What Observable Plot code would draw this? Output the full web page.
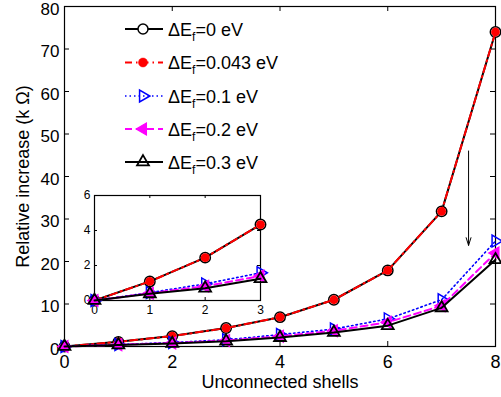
<!DOCTYPE html>
<html>
<head>
<meta charset="utf-8">
<script src="https://cdn.jsdelivr.net/npm/d3@7"></script>
<script src="https://cdn.jsdelivr.net/npm/@observablehq/plot@0.6"></script>
<style>
  html, body { margin: 0; padding: 0; background: white; }
  #wrap { position: relative; width: 501px; height: 397px; font-family: "Liberation Sans", Arial, sans-serif; }
  #wrap > * { position: absolute; }
</style>
</head>
<body>
<div id="wrap"></div>
<script>
// ---- data ----
const shells = [0, 1, 2, 3, 4, 5, 6, 7, 8];
const ef0    = [0, 1.09, 2.45, 4.34, 6.9, 11.0, 17.9, 31.8, 74.0];
const ef0043 = [0, 1.09, 2.45, 4.34, 6.9, 11.0, 17.9, 31.8, 74.0];
const ef01   = [0, 0.45, 0.95, 1.58, 2.8, 4.1, 6.5, 11.0, 24.8];
const ef02   = [0, 0.41, 0.82, 1.40, 2.4, 3.7, 5.7, 9.6, 22.0];
const ef03   = [0, 0.38, 0.70, 1.24, 2.1, 3.3, 4.9, 9.1, 20.4];
const seriesLabels = ["0", "0.043", "0.1", "0.2", "0.3"];
const xTicks = [0, 2, 4, 6, 8];
const yTicks = [0, 10, 20, 30, 40, 50, 60, 70, 80];
const insetXTicks = [0, 1, 2, 3];
const insetYTicks = [0, 2, 4, 6];
const arrowData = [{x1: 7.5, y1: 46, x2: 7.5, y2: 23.8}];

const values = [ef0, ef0043, ef01, ef02, ef03];
const styles = [
  {stroke: "black", width: 2, dash: null, symbol: "circle", r: 5, mstroke: "black", mfill: "white", sw: 1.5, rotate: 0},
  {stroke: "#ff0000", width: 2, dash: "7,4,1.5,4", symbol: "circle", r: 4.5, mstroke: "#ff0000", mfill: "#ff0000", sw: 0.5, rotate: 0},
  {stroke: "#0000ff", width: 1.6, dash: "1.5,3", symbol: "triangle", r: 4.4, mstroke: "#0000ff", mfill: "none", sw: 1.5, rotate: 90},
  {stroke: "#ff00ff", width: 2, dash: "7,4", symbol: "triangle", r: 4.4, mstroke: "#ff00ff", mfill: "#ff00ff", sw: 1.2, rotate: -90},
  {stroke: "black", width: 2, dash: null, symbol: "triangle", r: 4.4, mstroke: "black", mfill: "none", sw: 1.8, rotate: 0}
];
const series = values.map((v, i) => shells.map((s, j) => ({x: s, y: v[j], k: i})));

function seriesMarks(filterFn) {
  const marks = [];
  series.forEach((data, i) => {
    const st = styles[i];
    const d = data.filter(filterFn);
    marks.push(Plot.line(d, {x: "x", y: "y", stroke: st.stroke, strokeWidth: st.width, strokeDasharray: st.dash}));
    if (i === 0) {
      marks.push(Plot.dot(d, {x: "x", y: "y", symbol: "circle", r: 5.2, stroke: "black", fill: "white", strokeWidth: 1.5}));
    } else if (i === 1) {
      marks.push(Plot.dot(d, {x: "x", y: "y", symbol: "circle", r: 4.4, fill: "#ff0000", stroke: "none"}));
    } else {
      marks.push(Plot.dot(d, {x: "x", y: "y", symbol: st.symbol, r: st.r, stroke: st.mstroke, fill: st.mfill, strokeWidth: st.sw, rotate: st.rotate}));
    }
  });
  return marks;
}

const W = 501, H = 397;
const mL = 64, mR = 6, mT = 6, mB = 51;
const fw = W - mL - mR, fh = H - mT - mB;
const tick = 5;

const main = Plot.plot({
  width: W, height: H,
  marginLeft: mL, marginRight: mR, marginTop: mT, marginBottom: mB,
  style: {fontFamily: '"Liberation Sans", Arial, sans-serif', fontSize: "18px", color: "black", background: "white", overflow: "visible"},
  x: {domain: [0, 8]},
  y: {domain: [0, 80]},
  marks: [
    Plot.gridX(xTicks, {stroke: "black", strokeOpacity: 1, strokeWidth: 1, insetTop: fh - tick}),
    Plot.gridX(xTicks, {stroke: "black", strokeOpacity: 1, strokeWidth: 1, insetBottom: fh - tick}),
    Plot.gridY(yTicks, {stroke: "black", strokeOpacity: 1, strokeWidth: 1, insetLeft: fw - tick}),
    Plot.gridY(yTicks, {stroke: "black", strokeOpacity: 1, strokeWidth: 1, insetRight: fw - tick}),
    Plot.axisX(xTicks, {tickSize: 0, tickPadding: 9, label: null, fontSize: 18}),
    Plot.axisY(yTicks, {tickSize: 0, tickPadding: 5, dy: 3, label: null, fontSize: 17}),
    Plot.frame({stroke: "black", strokeWidth: 1.2}),
    Plot.text(["Unconnected shells"], {frameAnchor: "bottom", dy: 36, fontSize: 18, lineAnchor: "middle"}),
    Plot.text(["Relative increase (k \u03A9)"], {frameAnchor: "left", textAnchor: "middle", lineAnchor: "middle", rotate: -90, dx: -41, fontSize: 18}),
    ...seriesMarks(() => true),
    Plot.arrow(arrowData, {x1: "x1", y1: "y1", x2: "x2", y2: "y2", stroke: "black", strokeWidth: 1, headLength: 12, headAngle: 35})
  ]
});
main.style.left = "0px"; main.style.top = "0px";
document.getElementById("wrap").appendChild(main);

// ---- inset ----
const iL = 20, iR = 6, iT = 5, iB = 20;
const iFrameL = 94, iFrameR = 260, iFrameT = 195, iFrameB = 300;
const iW = iFrameR - iFrameL + iL + iR, iH = iFrameB - iFrameT + iT + iB;
const ifw = iFrameR - iFrameL, ifh = iFrameB - iFrameT;
const itick = 3;
const inset = Plot.plot({
  width: iW, height: iH,
  marginLeft: iL, marginRight: iR, marginTop: iT, marginBottom: iB,
  style: {fontFamily: '"Liberation Sans", Arial, sans-serif', fontSize: "12px", color: "black", background: "transparent", overflow: "visible"},
  x: {domain: [0, 3]},
  y: {domain: [0, 6]},
  marks: [
    Plot.frame({fill: "white", stroke: "none"}),
    Plot.gridX(insetXTicks, {stroke: "black", strokeOpacity: 1, insetTop: ifh - itick}),
    Plot.gridX(insetXTicks, {stroke: "black", strokeOpacity: 1, insetBottom: ifh - itick}),
    Plot.gridY(insetYTicks, {stroke: "black", strokeOpacity: 1, insetLeft: ifw - itick}),
    Plot.gridY(insetYTicks, {stroke: "black", strokeOpacity: 1, insetRight: ifw - itick}),
    Plot.axisX(insetXTicks, {tickSize: 0, tickPadding: 5, label: null, fontSize: 12}),
    Plot.axisY(insetYTicks, {tickSize: 0, tickPadding: 4, label: null, fontSize: 12}),
    Plot.frame({stroke: "black", strokeWidth: 1.2}),
    ...seriesMarks(d => d.x <= 3)
  ]
});
inset.style.left = (iFrameL - iL) + "px"; inset.style.top = (iFrameT - iT) + "px";
document.getElementById("wrap").appendChild(inset);

// ---- legend ----
const legendRowsY = [29, 62.5, 96, 129, 162];
const leg = d3.select("#wrap").append("svg")
  .attr("width", 250).attr("height", 180)
  .style("left", "118px").style("top", "10px")
  .style("overflow", "visible");
const ox = 118, oy = 10;
seriesLabels.forEach((lab, i) => {
  const st = styles[i];
  const cy = legendRowsY[i] - oy;
  const x0 = 125 - ox, x1 = 163 - ox, xm = 143 - ox;
  leg.append("line").attr("x1", x0).attr("x2", x1).attr("y1", cy).attr("y2", cy)
    .attr("stroke", st.stroke).attr("stroke-width", st.width).attr("stroke-dasharray", st.dash);
  const sym = st.symbol === "circle" ? d3.symbolCircle : d3.symbolTriangle;
  leg.append("path").attr("d", d3.symbol(sym, st.r * st.r * Math.PI)())
    .attr("transform", `translate(${xm},${cy}) rotate(${st.rotate})`)
    .attr("stroke", st.mstroke).attr("fill", st.mfill).attr("stroke-width", st.sw);
  const t = leg.append("text").attr("x", 168 - ox).attr("y", cy + 6.5)
    .attr("font-size", 18).attr("font-family", '"Liberation Sans", Arial, sans-serif').attr("fill", "black");
  t.append("tspan").text("\u0394E");
  t.append("tspan").attr("font-size", 12).attr("dy", 5).text("f");
  t.append("tspan").attr("dy", -5).text("=" + lab + " eV");
});
</script>
</body>
</html>
